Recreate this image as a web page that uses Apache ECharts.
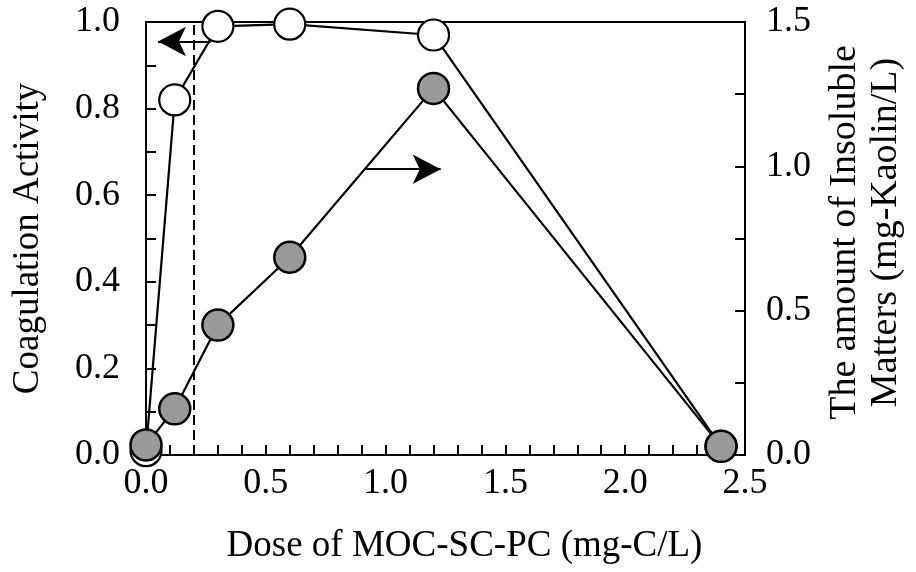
<!DOCTYPE html>
<html>
<head>
<meta charset="utf-8">
<script src="https://cdn.jsdelivr.net/npm/echarts@6/dist/echarts.min.js"></script>
<style>
html,body{margin:0;padding:0;background:#fff;}
#chart{width:916px;height:572px;}
</style>
</head>
<body>
<div id="chart"></div>
<script>
// Data
var doses = [0, 0.12, 0.3, 0.6, 1.2, 2.4];
var coagulation = [0.01, 0.82, 0.99, 0.995, 0.97, 0.02];
var insoluble = [0.035, 0.16, 0.45, 0.685, 1.27, 0.03];
var dashX = 0.2;
var leftArrow = [[0.27, 0.955], [0.05, 0.955]];
var rightArrow = [[0.91, 0.99], [1.23, 0.99]];
var xTitle = 'Dose of MOC-SC-PC (mg-C/L)';
var yLeftTitle = 'Coagulation Activity';
var yRightTitle = 'The amount of Insoluble\nMatters (mg-Kaolin/L)';

var FONT = "'Liberation Serif','Times New Roman',serif";
function pairs(xs, ys){ return xs.map(function(x,i){ return [x, ys[i]]; }); }

var chart = echarts.init(document.getElementById('chart'), null, {renderer:'canvas'});
var axisLineStyle = {color:'#000', width:2};
var tickStyle = {color:'#000', width:2};
chart.setOption({
  animation:false,
  backgroundColor:'#fff',
  grid:{left:146, right:171, top:22, bottom:117, show:true, borderColor:'#000', borderWidth:2, containLabel:false},
  xAxis:{
    type:'value', min:0, max:2.5, interval:0.5,
    axisLine:{show:true, onZero:false, lineStyle:axisLineStyle},
    axisTick:{show:true, inside:true, length:10, lineStyle:tickStyle},
    minorTick:{show:true, splitNumber:5, length:10, lineStyle:tickStyle},
    splitLine:{show:false},
    axisLabel:{color:'#000', fontFamily:FONT, fontSize:36, margin:11, formatter:function(v){return v.toFixed(1);}},
    name:xTitle, nameLocation:'middle', nameGap:73,
    nameTextStyle:{color:'#000', fontFamily:FONT, fontSize:37, padding:[0,0,0,38]}
  },
  yAxis:[{
    type:'value', min:0, max:1, interval:0.2, position:'left',
    axisLine:{show:true, onZero:false, lineStyle:axisLineStyle},
    axisTick:{show:true, inside:true, length:10, lineStyle:tickStyle},
    minorTick:{show:true, splitNumber:2, length:10, lineStyle:tickStyle},
    splitLine:{show:false},
    axisLabel:{color:'#000', fontFamily:FONT, fontSize:36, margin:26, formatter:function(v){return v.toFixed(1);}},
    name:yLeftTitle, nameLocation:'middle', nameGap:99, nameRotate:90,
    nameTextStyle:{color:'#000', fontFamily:FONT, fontSize:37}
  },{
    type:'value', min:0, max:1.5, interval:0.5, position:'right',
    axisLine:{show:true, onZero:false, lineStyle:axisLineStyle},
    axisTick:{show:true, inside:true, length:10, lineStyle:tickStyle},
    minorTick:{show:true, splitNumber:2, length:10, lineStyle:tickStyle},
    splitLine:{show:false},
    axisLabel:{color:'#000', fontFamily:FONT, fontSize:36, margin:21, formatter:function(v){return v.toFixed(1);}},
    name:yRightTitle, nameLocation:'middle', nameGap:80, nameRotate:90,
    nameTextStyle:{color:'#000', fontFamily:FONT, fontSize:38, lineHeight:41, padding:[0,0,0,12]}
  }],
  series:[{
    type:'line', yAxisIndex:0, clip:false, z:2,
    data:pairs(doses, coagulation),
    symbol:'circle', symbolSize:31,
    itemStyle:{color:'#fff', borderColor:'#000', borderWidth:2.2},
    lineStyle:{color:'#000', width:2.2},
    markLine:{
      silent:true, animation:false, label:{show:false},
      symbol:['none','none'],
      data:[
        [{coord:[dashX,0], symbol:'none', lineStyle:{color:'#000', width:2, type:[10,5]}},
         {coord:[dashX,1], symbol:'none'}],
        [{coord:leftArrow[0], symbol:'none', lineStyle:{color:'#000', width:2.2, type:'solid'}},
         {coord:leftArrow[1], symbol:'arrow', symbolSize:[22,28]}]
      ]
    }
  },{
    type:'line', yAxisIndex:1, clip:false, z:3,
    data:pairs(doses, insoluble),
    symbol:'circle', symbolSize:31,
    itemStyle:{color:'#999999', borderColor:'#000', borderWidth:2.5},
    lineStyle:{color:'#000', width:2.2},
    markLine:{
      silent:true, animation:false, label:{show:false},
      data:[
        [{coord:rightArrow[0], symbol:'none', lineStyle:{color:'#000', width:2.2, type:'solid'}},
         {coord:rightArrow[1], symbol:'arrow', symbolSize:[22,28]}]
      ]
    }
  }]
});
</script>
</body>
</html>
